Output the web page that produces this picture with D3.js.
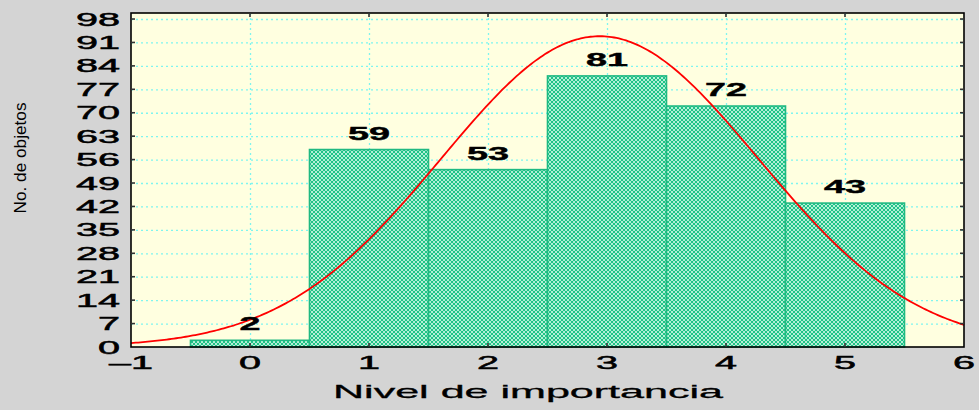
<!DOCTYPE html>
<html>
<head>
<meta charset="utf-8">
<script src="https://cdn.jsdelivr.net/npm/d3@7"></script>
<style>
  html, body { margin: 0; padding: 0; background: #d4d4d4; }
  svg { display: block; }
</style>
</head>
<body>
<div id="chart"></div>
<script>
/* ── Data ─────────────────────────────────────────────────────────── */
const levels  = [0, 1, 2, 3, 4, 5];          // Nivel de importancia
const counts  = [2, 59, 53, 81, 72, 43];      // No. de objetos
const yTicks  = [0, 7, 14, 21, 28, 35, 42, 49, 56, 63, 70, 77, 84, 91, 98];
const xTicks  = [-1, 0, 1, 2, 3, 4, 5, 6];
const xTitle  = 'Nivel de importancia';
const yTitle  = 'No. de objetos';

const W = 979, H = 410;
const margin = { left: 131, right: 15, top: 13, bottom: 63 };
const w = W - margin.left - margin.right;
const h = H - margin.top - margin.bottom;

const svg = d3.select('#chart').append('svg')
  .attr('width', W).attr('height', H)
  .attr('viewBox', `0 0 ${W} ${H}`);

svg.append('rect').attr('width', W).attr('height', H).attr('fill', '#d4d4d4');

// checker hatch for the bars
const defs = svg.append('defs');
const pat = defs.append('pattern')
  .attr('id', 'hatch').attr('patternUnits', 'userSpaceOnUse')
  .attr('width', 4).attr('height', 4);
pat.append('rect').attr('width', 4).attr('height', 4).attr('fill', '#b4efd6');
pat.append('rect').attr('width', 2).attr('height', 2).attr('fill', '#1fc387');
pat.append('rect').attr('x', 2).attr('y', 2).attr('width', 2).attr('height', 2).attr('fill', '#1fc387');

const g = svg.append('g').attr('transform', `translate(${margin.left},${margin.top})`);

/* ── Scales ───────────────────────────────────────────────────────── */
const x = d3.scaleLinear().domain([-1, 6]).range([0, w]);
const y = d3.scaleLinear().domain([0, 99.8]).range([h, 0]);

g.append('rect').attr('width', w).attr('height', h).attr('fill', '#ffffe0');

/* ── Grid ─────────────────────────────────────────────────────────── */
g.append('g')
  .call(d3.axisLeft(y).tickValues(yTicks.slice(1)).tickSize(-w).tickFormat(''))
  .call(sel => sel.select('.domain').remove())
  .call(sel => sel.selectAll('line')
    .attr('stroke', '#7ff5f0').attr('stroke-width', 1.3)
    .attr('stroke-dasharray', '2,3'));

g.append('g')
  .call(d3.axisBottom(x).tickValues(xTicks.slice(1, -1)).tickSize(h).tickFormat(''))
  .call(sel => sel.select('.domain').remove())
  .call(sel => sel.selectAll('line')
    .attr('stroke', '#7ff5f0').attr('stroke-width', 1.3)
    .attr('stroke-dasharray', '2,3'));

/* ── Bars ─────────────────────────────────────────────────────────── */
g.selectAll('.bar').data(levels).join('rect')
  .attr('class', 'bar')
  .attr('x', d => x(d - 0.5))
  .attr('width', d => x(d + 0.5) - x(d - 0.5))
  .attr('y', (d, i) => y(counts[i]))
  .attr('height', (d, i) => h - y(counts[i]))
  .attr('fill', 'url(#hatch)')
  .attr('stroke', '#1fb982')
  .attr('stroke-width', 1.6);

/* ── Fitted normal curve (from the counts) ────────────────────────── */
const n    = d3.sum(counts);
const mean = d3.sum(levels, (d, i) => d * counts[i]) / n;
const sd   = Math.sqrt(d3.sum(levels, (d, i) => (d - mean) ** 2 * counts[i]) / n);
const dens = v => n / (sd * Math.sqrt(2 * Math.PI)) * Math.exp(-((v - mean) ** 2) / (2 * sd * sd));

g.append('path')
  .datum(d3.range(-1, 6.001, 0.02))
  .attr('d', d3.line().x(d => x(d)).y(d => y(dens(d))))
  .attr('fill', 'none')
  .attr('stroke', '#ff0000')
  .attr('stroke-width', 1.8);

/* ── Value labels ─────────────────────────────────────────────────── */
g.selectAll('.val').data(levels).join('text')
  .attr('class', 'val')
  .attr('x', d => x(d))
  .attr('y', (d, i) => y(counts[i]) - 10)
  .attr('text-anchor', 'middle')
  .attr('font-family', 'Liberation Sans, Arial, sans-serif')
  .attr('font-weight', 'bold')
  .attr('font-size', '18.5px')
  .attr('stroke', '#000').attr('stroke-width', 0.4)
  .attr('textLength', (d, i) => String(counts[i]).length * 21)
  .attr('lengthAdjust', 'spacingAndGlyphs')
  .text((d, i) => counts[i]);

/* ── Frame + inside ticks ─────────────────────────────────────────── */
g.append('rect').attr('width', w).attr('height', h)
  .attr('fill', 'none').attr('stroke', '#000').attr('stroke-width', 1.6);

const tickStyle = sel => sel.attr('stroke', '#333').attr('stroke-width', 1.6);
g.selectAll('.tl').data(yTicks.slice(1)).join('line')
  .attr('x1', 0).attr('x2', 4).attr('y1', d => y(d)).attr('y2', d => y(d)).call(tickStyle);
g.selectAll('.tr').data(yTicks.slice(1)).join('line')
  .attr('x1', w - 4).attr('x2', w).attr('y1', d => y(d)).attr('y2', d => y(d)).call(tickStyle);
g.selectAll('.tt').data(xTicks.slice(1, -1)).join('line')
  .attr('y1', 0).attr('y2', 4).attr('x1', d => x(d)).attr('x2', d => x(d)).call(tickStyle);
g.selectAll('.tb').data(xTicks.slice(1, -1)).join('line')
  .attr('y1', h - 4).attr('y2', h).attr('x1', d => x(d)).attr('x2', d => x(d)).call(tickStyle);

/* ── Tick labels ──────────────────────────────────────────────────── */
const font = 'Liberation Sans, Arial, sans-serif';

g.selectAll('.yl').data(yTicks).join('text')
  .attr('x', -11).attr('y', d => y(d) + 6.5)
  .attr('text-anchor', 'end')
  .attr('font-family', font).attr('font-size', '18px')
  .attr('stroke', '#000').attr('stroke-width', 0.5)
  .attr('textLength', d => String(d).length * 22)
  .attr('lengthAdjust', 'spacingAndGlyphs')
  .text(d => d);

g.selectAll('.xl').data(xTicks).join('text')
  .attr('x', d => x(d)).attr('y', h + 22)
  .attr('text-anchor', 'middle')
  .attr('font-family', font).attr('font-size', '18px')
  .attr('stroke', '#000').attr('stroke-width', 0.5)
  .attr('textLength', d => (d < 0 ? 2 : 1) * 22)
  .attr('lengthAdjust', 'spacingAndGlyphs')
  .text(d => d < 0 ? '\u2013' + Math.abs(d) : d);

/* ── Axis titles ──────────────────────────────────────────────────── */
svg.append('text')
  .attr('x', 528).attr('y', 398)
  .attr('text-anchor', 'middle')
  .attr('font-family', font).attr('font-size', '19px')
  .attr('stroke', '#000').attr('stroke-width', 0.3)
  .attr('textLength', 390).attr('lengthAdjust', 'spacingAndGlyphs')
  .text(xTitle);

svg.append('text')
  .attr('transform', 'translate(26,158) rotate(-90)')
  .attr('text-anchor', 'middle')
  .attr('font-family', font).attr('font-size', '17px')
  .attr('textLength', 111).attr('lengthAdjust', 'spacingAndGlyphs')
  .text(yTitle);
</script>
</body>
</html>
